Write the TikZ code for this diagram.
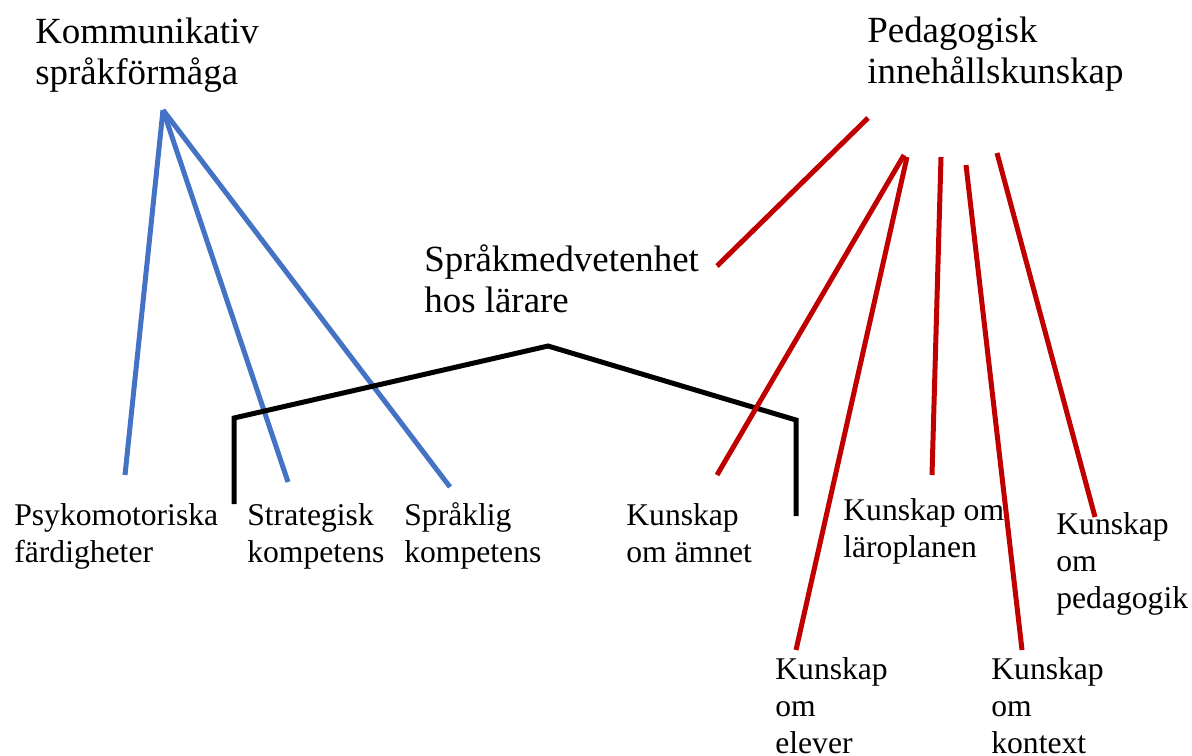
\documentclass[tikz,border=0pt]{standalone}
\usepackage{fontspec}
\setmainfont{Liberation Serif}
\definecolor{cblue}{HTML}{4472C4}
\definecolor{cred}{HTML}{C00000}
\begin{document}
\begin{tikzpicture}[x=0.02cm,y=-0.02cm,
  big/.style={inner sep=0pt,anchor=base west,align=left,font=\fontsize{21}{23}\selectfont},
  lbl/.style={inner sep=0pt,anchor=base west,align=left,font=\fontsize{18}{20.8}\selectfont},
  bl/.style={cblue,line width=0.1cm},
  rd/.style={cred,line width=0.1cm},
  bk/.style={black,line width=0.1cm}]
\useasboundingbox (0,0) rectangle (1192,755);
% titles (anchored at the baseline of the last line)
\node[big] (kom) at (35,84) {Kommunikativ\\språkförmåga};
\node[big] (ped) at (867,83) {Pedagogisk\\innehållskunskap};
\node[big] (spr) at (424,312) {Språkmedvetenhet\\hos lärare};
% labels
\node[lbl] (psy) at (14,562) {Psykomotoriska\\färdigheter};
\node[lbl] (str) at (247,562) {Strategisk\\kompetens};
\node[lbl] (sprk) at (404,562) {Språklig\\kompetens};
\node[lbl] (amn) at (626,562) {Kunskap\\om ämnet};
\node[lbl] (lar) at (843,557) {Kunskap om\\läroplanen};
\node[lbl] (pdg) at (1056,608) {Kunskap\\om\\pedagogik};
\node[lbl] (elv) at (775,753) {Kunskap\\om\\elever};
\node[lbl] (ktx) at (991,753) {Kunskap\\om\\kontext};
% blue
\coordinate (b0) at (163,110);
\coordinate (b1) at (125,475);
\coordinate (b2) at (288,482);
\coordinate (b3) at (450,487);
\draw[bl] (b0) -- (b1);
\draw[bl] (b0) -- (b2);
\draw[bl] (b0) -- (b3);
% black bracket
\coordinate (k1) at (234,504);
\coordinate (k2) at (234,418);
\coordinate (k3) at (548,346);
\coordinate (k4) at (796,420);
\coordinate (k5) at (796,516);
\draw[bk,line join=miter] (k1) -- (k2) -- (k3) -- (k4) -- (k5);
% red
\coordinate (r1a) at (868,118);
\coordinate (r1b) at (717,266);
\coordinate (r2a) at (904,155);
\coordinate (r2b) at (717,475);
\coordinate (r3a) at (907,157);
\coordinate (r3b) at (796,650);
\coordinate (r4a) at (941,157);
\coordinate (r4b) at (932,475);
\coordinate (r5a) at (966,165);
\coordinate (r5b) at (1022,650);
\coordinate (r6a) at (997,153);
\coordinate (r6b) at (1095,517);
\draw[rd] (r1a) -- (r1b);
\draw[rd] (r2a) -- (r2b);
\draw[rd] (r3a) -- (r3b);
\draw[rd] (r4a) -- (r4b);
\draw[rd] (r5a) -- (r5b);
\draw[rd] (r6a) -- (r6b);
\end{tikzpicture}
\end{document}
